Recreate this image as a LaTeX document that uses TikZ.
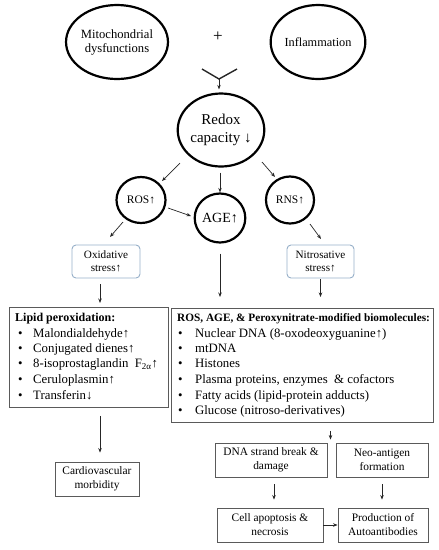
\documentclass[tikz,border=0pt]{standalone}
\usepackage{fontspec}
\setmainfont{Liberation Serif}
\usetikzlibrary{shapes.geometric,arrows.meta,calc}
\definecolor{oxblue}{RGB}{150,175,200}
\definecolor{boxgray}{RGB}{90,90,90}
\begin{document}
\begin{tikzpicture}[x=1pt,y=-1pt,
 circ/.style={ellipse,draw=black,line width=2.2pt,inner sep=0pt,align=center},
 arr/.style={-{Stealth[length=4.5pt,width=3.5pt]},line width=0.7pt,black!85},
 sbox/.style={rectangle,draw=boxgray,line width=0.9pt,inner sep=0pt,align=center,font=\fontsize{11.4}{14}\selectfont},
 rbox/.style={sbox,rounded corners=4pt,draw=oxblue,font=\fontsize{11.2}{13}\selectfont},
 listbox/.style={rectangle,draw=boxgray,line width=0.9pt,inner sep=0pt,anchor=north west},
 hdr/.style={anchor=base west,inner sep=0pt,font=\fontsize{11.3}{13}\selectfont\bfseries},
 itm/.style={anchor=base west,inner sep=0pt,font=\fontsize{12.8}{15}\selectfont},
 ]
\useasboundingbox (0,0) rectangle (439,550);

% top ellipses
\node[circ,minimum width=82,minimum height=74,font=\fontsize{12.6}{14}\selectfont] (mito) at (117,42) {Mitochondrial\\dysfunctions};
\node[circ,minimum width=83,minimum height=74,font=\fontsize{12.3}{14}\selectfont] (infl) at (318,42) {Inflammation};
\node[inner sep=0pt,font=\fontsize{17}{17}\selectfont] (plus) at (218,37) {+};

% Y junction
\coordinate (yl) at (202,69);
\coordinate (yr) at (237,69);
\coordinate (yj) at (219,79);
\draw[line width=1.4pt,black!85] (yl) -- (yj) -- (yr);

\node[circ,minimum width=83,minimum height=73,font=\fontsize{15}{18}\selectfont] (redox) at (221,130) {Redox\\capacity ↓};
\draw[arr,shorten >=3pt] (yj) -- (yj |- redox.north);

\node[circ,minimum width=49,minimum height=46,font=\fontsize{11.5}{13}\selectfont] (ros) at (141,200) {ROS↑};
\node[circ,minimum width=50,minimum height=49,font=\fontsize{14}{16}\selectfont] (age) at (220,218) {AGE↑};
\node[circ,minimum width=48,minimum height=47,font=\fontsize{11.5}{13}\selectfont] (rns) at (290,200) {RNS↑};

\node[rbox,minimum width=68,minimum height=33] (ox) at (106,261.5) {Oxidative\\stress↑};
\node[rbox,minimum width=67,minimum height=33] (nitro) at (320.5,261.5) {Nitrosative\\stress↑};

\draw[arr] ($(redox.center)+(-41,33)$) -- ($(ros.center)+(21,-19)$);
\draw[arr] ($(redox.south)+(-1,5)$) -- (age.north);
\draw[arr] ($(ros.center)+(27,8)$) -- ($(age.center)+(-29,-2)$);
\draw[arr] ($(redox.center)+(41,32)$) -- ($(rns.center)+(-15,-23)$);
\draw[arr] ($(ros.center)+(-18,22)$) -- ($(ox.center)+(4,-24.5)$);
\draw[arr] ($(rns.center)+(20,24)$) -- ($(nitro.center)+(0.5,-22.5)$);

% list boxes
\node[listbox,minimum width=159,minimum height=100] (lip) at (9,307) {};
\node[listbox,minimum width=262,minimum height=114] (big) at (171,308) {};

\node[hdr,font=\fontsize{12}{13}\selectfont\bfseries] (lh) at (15,321) {Lipid peroxidation:};
\node[itm] (l1) at (18,337) {\makebox[15pt][l]{•}Malondialdehyde↑};
\node[itm] (l2) at (18,352.5) {\makebox[15pt][l]{•}Conjugated dienes↑};
\node[itm] (l3) at (18,367.5) {\makebox[15pt][l]{•}8-isoprostaglandin\ \ F\textsubscript{2α}↑};
\node[itm] (l4) at (18,383) {\makebox[15pt][l]{•}Ceruloplasmin↑};
\node[itm] (l5) at (18,399) {\makebox[15pt][l]{•}Transferin↓};

\node[hdr] (bh) at (177,321) {ROS, AGE, \& Peroxynitrate-modified biomolecules:};
\node[itm] (b1) at (178,337) {\makebox[17pt][l]{•}Nuclear DNA (8-oxodeoxyguanine↑)};
\node[itm] (b2) at (178,352.5) {\makebox[17pt][l]{•}mtDNA};
\node[itm] (b3) at (178,367.5) {\makebox[17pt][l]{•}Histones};
\node[itm] (b4) at (178,383) {\makebox[17pt][l]{•}Plasma proteins, enzymes\ \ \& cofactors};
\node[itm] (b5) at (178,399) {\makebox[17pt][l]{•}Fatty acids (lipid-protein adducts)};
\node[itm] (b6) at (178,414) {\makebox[17pt][l]{•}Glucose (nitroso-derivatives)};

\draw[arr] ($(ox.south)+(-6,6)$) -- ($(lip.north -| ox.south)+(-6,-4)$);
\draw[arr] ($(age.south)+(0,10)$) -- ($(big.north -| age.south)+(0,-11)$);
\draw[arr] ($(nitro.south)+(0,1)$) -- ($(big.north -| nitro.south)+(0,-11)$);

% lower boxes
\node[sbox,minimum width=84,minimum height=34] (cardio) at (97,479) {Cardiovascular\\morbidity};
\node[sbox,minimum width=112,minimum height=34] (dna) at (271,460) {DNA strand break \&\\damage};
\node[sbox,minimum width=92,minimum height=34] (neo) at (382,460) {Neo-antigen\\formation};
\node[sbox,minimum width=106,minimum height=34] (cell) at (270,525) {Cell apoptosis \&\\necrosis};
\node[sbox,minimum width=90,minimum height=34] (prod) at (383,525) {Production of\\Autoantibodies};

\coordinate (mid) at ($(dna.north east)!0.5!(neo.north west)$);
\draw[arr] ($(lip.south -| cardio.north)+(3,8)$) -- ($(cardio.north)+(3,-9)$);
\draw[arr] ($(big.south -| mid)+(-1,8)$) -- ($(mid)+(-1,-3)$);
\draw[arr] ($(dna.south)+(3,7)$) -- ($(cell.north -| dna.south)+(3,-8)$);
\draw[arr] ($(neo.south)+(0,7)$) -- ($(prod.north -| neo.south)+(0,-8)$);
\draw[arr] (cell.east) -- (prod.west);
\end{tikzpicture}
\end{document}
